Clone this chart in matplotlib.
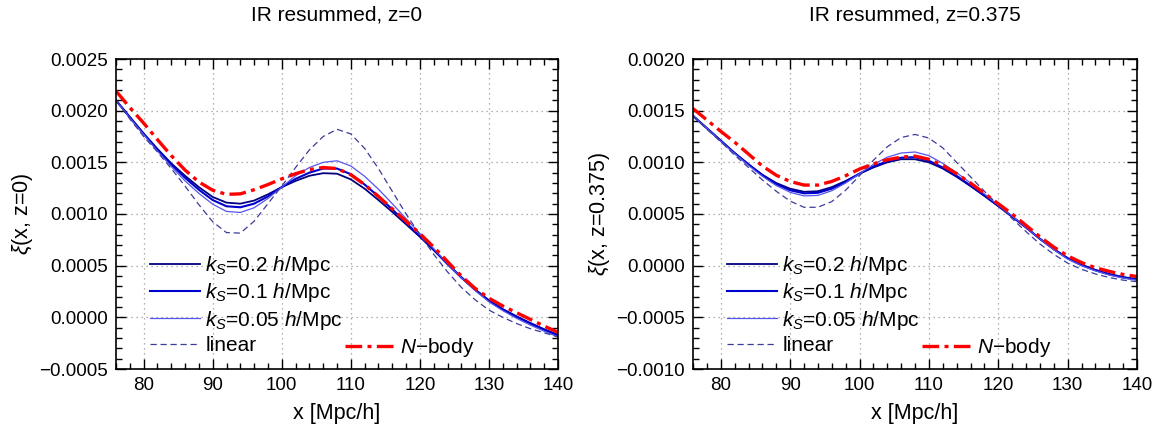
import matplotlib
matplotlib.use('Agg')
import matplotlib.pyplot as plt
import numpy as np
from matplotlib.lines import Line2D
from matplotlib.ticker import MultipleLocator, FuncFormatter

plt.rcParams['font.family'] = ['Liberation Sans', 'DejaVu Sans']
plt.rcParams['mathtext.fontset'] = 'custom'
plt.rcParams['mathtext.rm'] = 'Liberation Sans'
plt.rcParams['mathtext.it'] = 'Liberation Sans:italic'

# separation x in Mpc/h
x = [76, 78, 80, 82, 84, 86, 88, 90, 92, 94, 96, 98, 100, 102, 104, 106, 108,
     110, 112, 114, 116, 118, 120, 122, 124, 126, 128, 130, 132, 134, 136, 138, 140]

# z = 0, values in units of 1e-3
nbody_z0 = [2.19, 2.03, 1.88, 1.72, 1.565, 1.425, 1.31, 1.23, 1.19, 1.195, 1.235, 1.285, 1.34,
            1.39, 1.43, 1.45, 1.44, 1.38, 1.285, 1.17, 1.05, 0.93, 0.81, 0.68, 0.54,
            0.40, 0.28, 0.185, 0.11, 0.045, -0.02, -0.085, -0.145]
ks02_z0 = [2.10, 1.94, 1.78, 1.63, 1.49, 1.37, 1.26, 1.165, 1.11, 1.10, 1.13, 1.19, 1.26,
           1.32, 1.37, 1.395, 1.39, 1.335, 1.245, 1.135, 1.02, 0.90, 0.78, 0.65, 0.52,
           0.39, 0.27, 0.165, 0.08, 0.01, -0.055, -0.115, -0.17]
ks01_z0 = [2.10, 1.935, 1.775, 1.62, 1.48, 1.35, 1.235, 1.135, 1.075, 1.065, 1.10, 1.17, 1.26,
           1.34, 1.40, 1.44, 1.44, 1.385, 1.285, 1.17, 1.045, 0.915, 0.785, 0.655, 0.515,
           0.385, 0.265, 0.16, 0.075, 0.005, -0.06, -0.12, -0.175]
ks005_z0 = [2.10, 1.93, 1.77, 1.61, 1.46, 1.32, 1.20, 1.095, 1.025, 1.015, 1.06, 1.15, 1.26,
            1.37, 1.45, 1.50, 1.515, 1.465, 1.365, 1.24, 1.10, 0.955, 0.81, 0.665, 0.52,
            0.385, 0.26, 0.15, 0.065, -0.01, -0.075, -0.135, -0.19]
linear_z0 = [2.10, 1.92, 1.75, 1.60, 1.44, 1.27, 1.09, 0.925, 0.82, 0.815, 0.93, 1.10, 1.27,
             1.45, 1.62, 1.75, 1.82, 1.775, 1.635, 1.44, 1.22, 1.00, 0.80, 0.61, 0.44,
             0.29, 0.17, 0.07, 0.00, -0.06, -0.11, -0.15, -0.19]

# z = 0.375, values in units of 1e-3
nbody_z1 = [1.52, 1.41, 1.30, 1.195, 1.08, 0.965, 0.875, 0.815, 0.78, 0.78, 0.815, 0.87, 0.935,
            0.985, 1.025, 1.05, 1.06, 1.03, 0.97, 0.89, 0.80, 0.70, 0.60, 0.50, 0.39,
            0.28, 0.18, 0.095, 0.03, -0.02, -0.055, -0.085, -0.105]
ks02_z1 = [1.45, 1.33, 1.21, 1.09, 0.98, 0.88, 0.80, 0.745, 0.715, 0.72, 0.76, 0.82, 0.89,
           0.95, 1.00, 1.03, 1.03, 1.00, 0.94, 0.86, 0.77, 0.675, 0.575, 0.475, 0.37,
           0.26, 0.16, 0.075, 0.01, -0.04, -0.08, -0.11, -0.13]
ks01_z1 = [1.45, 1.33, 1.21, 1.09, 0.98, 0.875, 0.79, 0.73, 0.70, 0.705, 0.745, 0.81, 0.89,
           0.96, 1.01, 1.045, 1.05, 1.015, 0.95, 0.87, 0.775, 0.68, 0.58, 0.475, 0.37,
           0.26, 0.16, 0.07, 0.005, -0.045, -0.085, -0.115, -0.135]
ks005_z1 = [1.45, 1.33, 1.205, 1.085, 0.97, 0.865, 0.775, 0.71, 0.675, 0.68, 0.725, 0.80, 0.89,
            0.98, 1.05, 1.09, 1.10, 1.065, 0.99, 0.90, 0.80, 0.695, 0.585, 0.48, 0.37,
            0.26, 0.155, 0.065, 0.0, -0.05, -0.09, -0.12, -0.14]
linear_z1 = [1.45, 1.32, 1.20, 1.07, 0.95, 0.83, 0.72, 0.625, 0.565, 0.565, 0.62, 0.73, 0.87,
             1.02, 1.15, 1.24, 1.27, 1.235, 1.14, 1.00, 0.86, 0.72, 0.585, 0.455, 0.33,
             0.21, 0.11, 0.025, -0.035, -0.08, -0.115, -0.14, -0.155]

titles = ['IR resummed, z=0', 'IR resummed, z=0.375']
ylabels = [r'$\xi$(x, z=0)', r'$\xi$(x, z=0.375)']
ylims = [(-0.0005, 0.0025), (-0.0010, 0.0020)]
labels = [r'$k_S$=0.2 $h$/Mpc', r'$k_S$=0.1 $h$/Mpc', r'$k_S$=0.05 $h$/Mpc',
          'linear', r'$N$$-$body']

panels = [(nbody_z0, ks02_z0, ks01_z0, ks005_z0, linear_z0),
          (nbody_z1, ks02_z1, ks01_z1, ks005_z1, linear_z1)]

W, H = 1166, 432
fig = plt.figure(figsize=(W / 100, H / 100), dpi=100)
rects = [[116 / W, (H - 369) / H, (558 - 116) / W, 310 / H],
         [693 / W, (H - 369) / H, (1137 - 693) / W, 310 / H]]

def fmt(v, pos):
    s = '%.4f' % v
    if s.startswith('-') and float(s) != 0:
        s = '\u2212' + s[1:]
    elif s.startswith('-'):
        s = s[1:]
    return s

for i in range(2):
    ax = fig.add_axes(rects[i])
    nb, k2, k1, k05, lin = [np.array(a) * 1e-3 for a in panels[i]]
    h1, = ax.plot(x, k2, color='#000080', lw=1.3)
    h2, = ax.plot(x, k1, color='#0000cc', lw=1.5)
    h3, = ax.plot(x, k05, color='#5555ee', lw=0.9)
    h4, = ax.plot(x, lin, color='#3c3c9a', lw=0.9, dashes=(5, 3))
    h5, = ax.plot(x, nb, color='#ff0000', lw=2.4, dashes=(5, 1.6, 1.2, 1.6))

    ax.set_xlim(76, 140)
    ax.set_ylim(*ylims[i])
    ax.xaxis.set_major_locator(MultipleLocator(10))
    ax.xaxis.set_minor_locator(MultipleLocator(2))
    ax.yaxis.set_major_locator(MultipleLocator(0.0005))
    ax.yaxis.set_minor_locator(MultipleLocator(0.0001))
    ax.yaxis.set_major_formatter(FuncFormatter(fmt))
    ax.tick_params(which='both', direction='in', top=True, right=True, labelsize=13.5, width=1.0)
    ax.tick_params(which='major', length=7, pad=6)
    ax.tick_params(which='minor', length=4)
    for sp in ax.spines.values():
        sp.set_linewidth(1.2)
    ax.grid(True, which='major', color='#999999', linestyle=(0, (1, 3)), lw=0.9)
    ax.set_title(titles[i], fontsize=15, pad=28)
    ax.set_xlabel('x [Mpc/h]', fontsize=15.5, labelpad=6)
    ax.set_ylabel(ylabels[i], fontsize=15.5, labelpad=3)

    # blank slots keep N-body in the bottom row of the second column
    blank = Line2D([], [], color='none')
    leg = ax.legend([h1, h2, h3, h4, blank, blank, blank, h5],
                    labels[:4] + labels[:3] + labels[4:],
                    ncol=2, loc='upper left', bbox_to_anchor=(0.077, 0.37),
                    frameon=False, fontsize=15, handlelength=2.4, handletextpad=0.25,
                    labelspacing=0.2, columnspacing=0.1, borderpad=0, borderaxespad=0)
    for t in leg.get_texts()[4:7]:
        t.set_color('none')

fig.savefig('out.png', dpi=100)
